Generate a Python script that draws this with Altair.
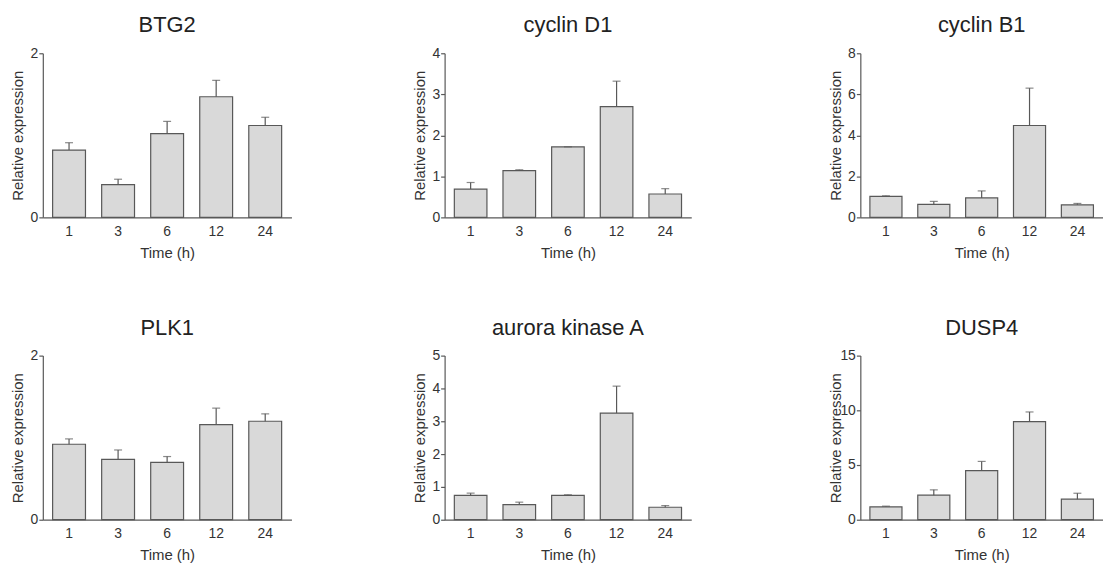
import altair as alt
import pandas as pd

times = ["1", "3", "6", "12", "24"]

genes = ["BTG2", "cyclin D1", "cyclin B1", "PLK1", "aurora kinase A", "DUSP4"]

btg2_mean = [0.82, 0.40, 1.02, 1.47, 1.12]
btg2_upper = [0.91, 0.465, 1.17, 1.67, 1.22]

ccnd1_mean = [0.69, 1.14, 1.72, 2.70, 0.57]
ccnd1_upper = [0.85, 1.16, 1.72, 3.32, 0.70]

ccnb1_mean = [1.02, 0.63, 0.95, 4.48, 0.61]
ccnb1_upper = [1.05, 0.78, 1.29, 6.30, 0.68]

plk1_mean = [0.92, 0.735, 0.70, 1.16, 1.20]
plk1_upper = [0.985, 0.85, 0.77, 1.36, 1.29]

aurka_mean = [0.74, 0.46, 0.74, 3.25, 0.38]
aurka_upper = [0.81, 0.535, 0.76, 4.07, 0.43]

dusp4_mean = [1.18, 2.24, 4.48, 8.97, 1.88]
dusp4_upper = [1.24, 2.73, 5.33, 9.85, 2.42]

y_max = [2, 4, 8, 2, 5, 15]
y_ticks = [[0, 1, 2], [0, 1, 2, 3, 4], [0, 2, 4, 6, 8], [0, 1, 2], [0, 1, 2, 3, 4, 5], [0, 5, 10, 15]]

FONT = "Liberation Sans"
H = 165
BAR_FILL = "#d9d9d9"
DARK = "#585858"


def panel(gene, means, uppers, ymax, ticks, width, plot_w, title_dx):
    df = pd.DataFrame({"time": times, "mean": means, "upper": uppers})
    xscale = alt.Scale(domain=times, paddingInner=0.33, paddingOuter=0.2, range=[0, plot_w])
    yscale = alt.Scale(domain=[0, ymax], nice=False)
    xaxis = alt.Axis(
        title="Time (h)", labelAngle=0, ticks=False, labelPadding=7,
        titleX=plot_w / 2, titleY=35, titleBaseline="middle", titleAlign="center",
    )
    yaxis = alt.Axis(
        title="Relative expression", values=ticks, format="d", tickSize=4, labelPadding=1,
        grid=False, titleX=-25, titleY=H / 2, titleAngle=270, titleBaseline="middle",
        titleAlign="center",
    )
    x = alt.X("time:N", sort=times, scale=xscale, axis=xaxis)
    base = alt.Chart(df)
    bars = base.mark_bar(fill=BAR_FILL, stroke=DARK, strokeWidth=1.2).encode(
        x=x, y=alt.Y("mean:Q", scale=yscale, axis=yaxis)
    )
    rule = base.mark_rule(color=DARK, strokeWidth=1.2).encode(
        x=x, y=alt.Y("mean:Q", scale=yscale, axis=yaxis), y2="upper:Q"
    )
    cap = base.mark_tick(color=DARK, size=8, thickness=1.2).encode(
        x=x, y=alt.Y("upper:Q", scale=yscale, axis=yaxis)
    )
    return alt.layer(bars, rule, cap).properties(
        width=width,
        height=H,
        title=alt.TitleParams(
            gene, font=FONT, fontSize=22, fontWeight="normal", color="#222222",
            frame="group", anchor="middle", baseline="alphabetic", offset=21,
            dx=title_dx, dy=29,
        ),
    )


means = [btg2_mean, ccnd1_mean, ccnb1_mean, plk1_mean, aurka_mean, dusp4_mean]
uppers = [btg2_upper, ccnd1_upper, ccnb1_upper, plk1_upper, aurka_upper, dusp4_upper]
widths = [250, 264, 244]
plot_ws = [250, 248, 244]

panels = []
for i, g in enumerate(genes):
    c = i % 3
    panels.append(
        panel(g, means[i], uppers[i], y_max[i], y_ticks[i], widths[c], plot_ws[c],
              (plot_ws[c] - widths[c]) / 2)
    )

chart = alt.concat(
    *panels, columns=3, spacing={"row": 139, "column": 154}, bounds="flush"
).properties(
    padding={"left": 2, "top": 5, "right": 0, "bottom": 0}
).configure_view(
    stroke=None
).configure_axis(
    domainColor=DARK, tickColor=DARK, labelColor="#333333", titleColor="#333333",
    labelFont=FONT, titleFont=FONT, labelFontSize=14, titleFontSize=15,
    titleFontWeight="normal", domainWidth=1.2, tickWidth=1.2,
)

chart.save("out.html", embed_options={"renderer": "svg", "actions": False})
